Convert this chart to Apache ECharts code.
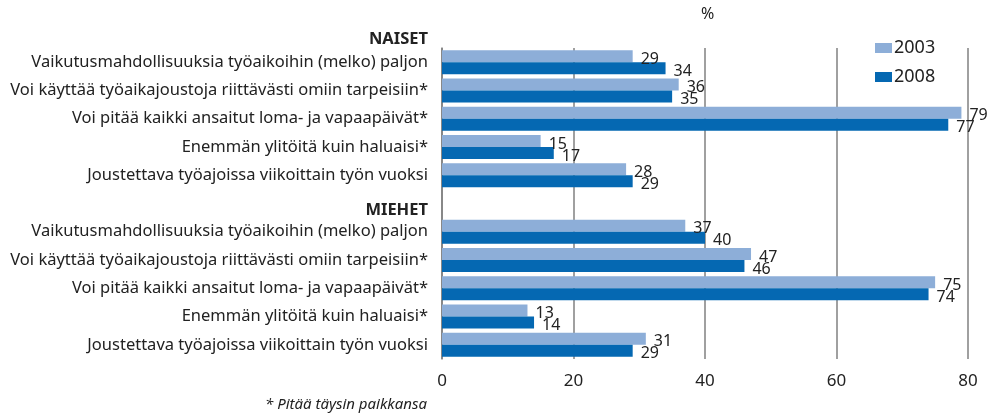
<!DOCTYPE html>
<html>
<head>
<meta charset="utf-8">
<script src="https://cdn.jsdelivr.net/npm/echarts@6/dist/echarts.min.js"></script>
<style>
  html, body { margin: 0; padding: 0; background: #fff; }
  #chart { width: 992px; height: 418px; }
</style>
</head>
<body>
<div id="chart"></div>
<script>
var categories = [
  'Vaikutusmahdollisuuksia työaikoihin (melko) paljon',
  'Voi käyttää työaikajoustoja riittävästi omiin tarpeisiin*',
  'Voi pitää kaikki ansaitut loma- ja vapaapäivät*',
  'Enemmän ylitöitä kuin haluaisi*',
  'Joustettava työajoissa viikoittain työn vuoksi',
  'MIEHET',
  'Vaikutusmahdollisuuksia työaikoihin (melko) paljon ',
  'Voi käyttää työaikajoustoja riittävästi omiin tarpeisiin* ',
  'Voi pitää kaikki ansaitut loma- ja vapaapäivät* ',
  'Enemmän ylitöitä kuin haluaisi* ',
  'Joustettava työajoissa viikoittain työn vuoksi '
];
var headers = ['MIEHET'];
var values2003 = [29, 36, 79, 15, 28, '-', 37, 47, 75, 13, 31];
var values2008 = [34, 35, 77, 17, 29, '-', 40, 46, 74, 14, 29];
var xTicks = [0, 20, 40, 60, 80];

var FONT = '"Noto Sans", sans-serif';
var chart = echarts.init(document.getElementById('chart'), null, { renderer: 'canvas' });

function valueLabel() {
  return {
    show: true,
    position: 'right',
    distance: 8,
    offset: [0, 3],
    color: '#222',
    fontSize: 16,
    fontFamily: FONT
  };
}

var option = {
  animation: false,
  textStyle: { fontFamily: FONT },
  grid: { left: 442, right: 24, top: 48, bottom: 59 },
  legend: {
    orient: 'vertical',
    left: 870,
    top: 34,
    itemWidth: 17,
    itemHeight: 10,
    itemGap: 11,
    icon: 'rect',
    textStyle: { fontSize: 18, color: '#222', fontFamily: FONT, padding: [0, 0, 0, -3] },
    data: ['2003', '2008']
  },
  graphic: [
    { type: 'text', right: 564, top: 31, style: { text: 'NAISET', font: 'bold 16.5px ' + FONT, fill: '#222' } },
    { type: 'text', left: 701, top: 6, style: { text: '%', font: '16px ' + FONT, fill: '#222' } },
    { type: 'text', right: 565, top: 397, style: { text: '* Pitää täysin paikkansa', font: 'italic 15px ' + FONT, fill: '#222' } }
  ],
  xAxis: {
    type: 'value',
    min: xTicks[0],
    max: xTicks[xTicks.length - 1],
    interval: 20,
    axisLine: { show: false },
    axisTick: { show: false },
    axisLabel: { color: '#222', fontSize: 17, margin: 14, fontFamily: FONT },
    splitLine: { lineStyle: { color: '#808080', width: 1.5 } }
  },
  yAxis: {
    type: 'category',
    inverse: true,
    data: categories,
    axisLine: { show: true, lineStyle: { color: '#808080', width: 1.5 } },
    axisTick: { show: false },
    axisLabel: {
      color: '#222',
      fontSize: 16.5,
      margin: 14,
      fontFamily: FONT,
      formatter: function (v) {
        v = v.trim();
        return headers.indexOf(v) >= 0 ? '{h|' + v + '}' : v;
      },
      rich: {
        h: { fontWeight: 'bold', fontSize: 16.5, color: '#222', padding: [13, 0, 0, 0], fontFamily: FONT }
      }
    }
  },
  series: [
    {
      name: '2003',
      type: 'bar',
      data: values2003,
      barWidth: 12,
      barGap: '0%',
      itemStyle: { color: '#8DAED8' },
      label: valueLabel()
    },
    {
      name: '2008',
      type: 'bar',
      data: values2008,
      barWidth: 12,
      barGap: '0%',
      itemStyle: { color: '#0568B2' },
      label: valueLabel()
    }
  ]
};

chart.setOption(option);
</script>
</body>
</html>
